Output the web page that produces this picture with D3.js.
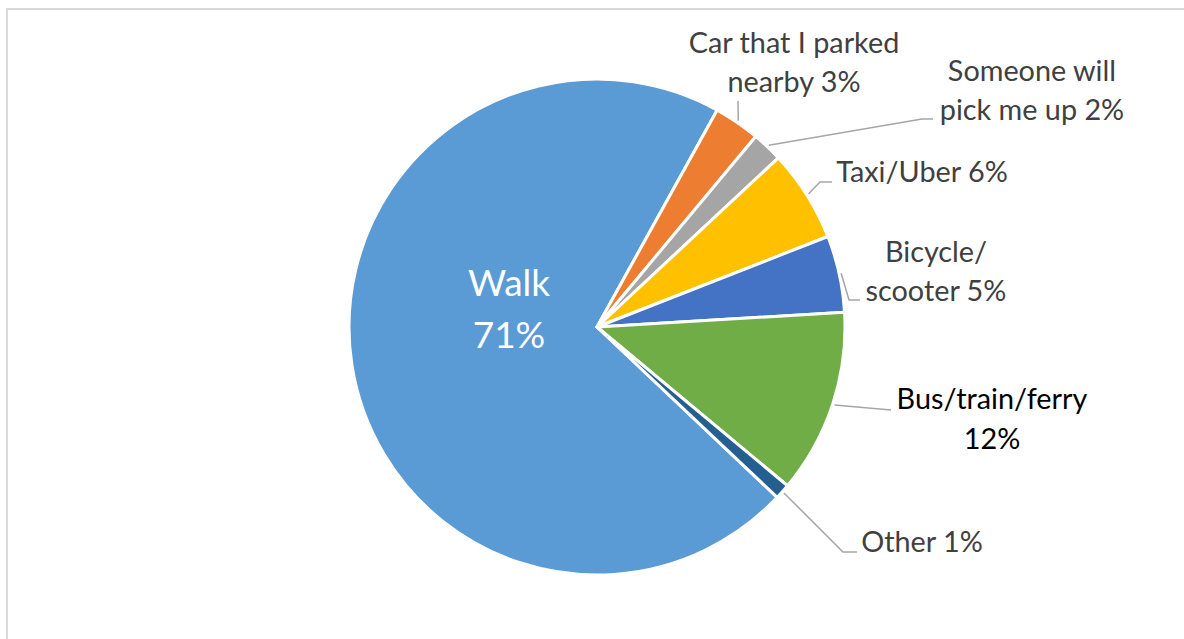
<!DOCTYPE html>
<html>
<head>
<meta charset="utf-8">
<script src="https://cdn.jsdelivr.net/npm/d3@7"></script>
<style>
  html, body { margin: 0; padding: 0; background: #fff; }
  svg { display: block; }
  text { font-family: Lato, "Open Sans", "Liberation Sans", sans-serif; }
</style>
</head>
<body>
<svg id="chart" width="1184" height="639"></svg>
<script>
// Mode of travel shares (percent)
const categories = ["Walk", "Car that I parked nearby", "Someone will pick me up", "Taxi/Uber", "Bicycle/scooter", "Bus/train/ferry", "Other"];
const values = [71, 3, 2, 6, 5, 12, 1];
const colors = ["#5B9BD5", "#ED7D31", "#A5A5A5", "#FFC000", "#4472C4", "#70AD47", "#255E91"];
// Label lines shown beside each slice
const labelLines = [
  ["Walk", "71%"],
  ["Car that I parked", "nearby 3%"],
  ["Someone will", "pick me up 2%"],
  ["Taxi/Uber 6%"],
  ["Bicycle/", "scooter 5%"],
  ["Bus/train/ferry", "12%"],
  ["Other 1%"]
];

const W = 1184, H = 639;
const cx = 597, cy = 327, R = 248;
const startDeg = 133.4;

// Label placement: text centre x, first baseline y, and leader-line elbow points
const labelLayout = [
  { x: 509, y: 296, lh: 52, size: 37, fill: "#ffffff", inside: true },
  { x: 794, y: 53, lh: 38.5, size: 28.8, fill: "#404040", elbow: [[738, 101]] },
  { x: 1032, y: 81, lh: 38.5, size: 28.8, fill: "#404040", elbow: [[922, 119], [933, 119]] },
  { x: 922, y: 182, lh: 38.5, size: 28.8, fill: "#404040", elbow: [[820, 182], [832, 182]] },
  { x: 936, y: 262, lh: 38.5, size: 28.8, fill: "#404040", elbow: [[849, 300], [860, 300]] },
  { x: 992, y: 409, lh: 40, size: 28.8, fill: "#000000", elbow: [[891, 410]] },
  { x: 922, y: 552, lh: 38.5, size: 28.8, fill: "#404040", elbow: [[843, 552], [857, 552]] }
];

const svg = d3.select("#chart");

// Chart area frame
svg.append("rect")
  .attr("x", 7).attr("y", 9)
  .attr("width", W + 20).attr("height", H + 20)
  .attr("fill", "#ffffff")
  .attr("stroke", "#D9D9D9")
  .attr("stroke-width", 2);

const data = categories.map((c, i) => ({ name: c, value: values[i], color: colors[i], lines: labelLines[i], layout: labelLayout[i] }));

const start = startDeg * Math.PI / 180;
const pie = d3.pie()
  .value(d => d.value)
  .sort(null)
  .startAngle(start)
  .endAngle(start + 2 * Math.PI);

const arcs = pie(data);
const arc = d3.arc().innerRadius(0).outerRadius(R);

const g = svg.append("g").attr("transform", `translate(${cx},${cy})`);

g.selectAll("path.slice")
  .data(arcs)
  .join("path")
  .attr("class", "slice")
  .attr("d", arc)
  .attr("fill", d => d.data.color)
  .attr("stroke", "#ffffff")
  .attr("stroke-width", 3)
  .attr("stroke-linejoin", "round");

// Leader lines from the slice edge to each outside label
const line = d3.line();
arcs.forEach(a => {
  const lay = a.data.layout;
  if (lay.inside) return;
  const mid = (a.startAngle + a.endAngle) / 2;
  const r = R + 2;
  const p0 = [cx + r * Math.sin(mid), cy - r * Math.cos(mid)];
  svg.append("path")
    .attr("d", line([p0, ...lay.elbow]))
    .attr("fill", "none")
    .attr("stroke", "#A6A6A6")
    .attr("stroke-width", 1.5);
});

// Data labels
arcs.forEach(a => {
  const lay = a.data.layout;
  const t = svg.append("text")
    .attr("text-anchor", "middle")
    .attr("font-size", lay.size)
    .attr("fill", lay.fill);
  a.data.lines.forEach((s, i) => {
    t.append("tspan")
      .attr("x", lay.x)
      .attr("y", lay.y + i * lay.lh)
      .text(s);
  });
});
</script>
</body>
</html>
